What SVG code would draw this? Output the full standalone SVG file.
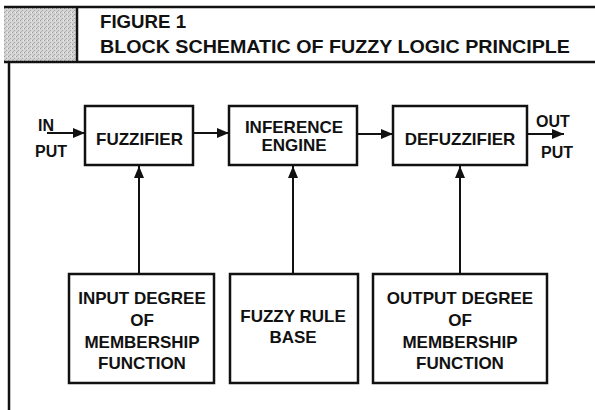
<svg xmlns="http://www.w3.org/2000/svg" width="595" height="410" viewBox="0 0 595 410">
  <style>
    .box { fill: #ffffff; stroke: #111111; stroke-width: 2.5; }
    .frame { fill: none; stroke: #111111; stroke-width: 2.5; }
    .conn { fill: none; stroke: #111111; stroke-width: 2; }
    .lbl { font-family: "Liberation Sans", Arial, Helvetica, sans-serif; font-weight: bold; font-size: 17px; fill: #111111; text-anchor: middle; }
    .io { font-family: "Liberation Sans", Arial, Helvetica, sans-serif; font-weight: bold; font-size: 16px; fill: #111111; }
    .title { font-family: "Liberation Sans", Arial, Helvetica, sans-serif; font-weight: bold; fill: #111111; }
  </style>
  <defs>
    <marker id="arrow" viewBox="0 0 12 10" refX="12" refY="5" markerWidth="12" markerHeight="10" markerUnits="userSpaceOnUse" orient="auto">
      <path d="M0,0 L12,5 L0,10 Z" fill="#111111"/>
    </marker>
    <pattern id="grain" width="4" height="4" patternUnits="userSpaceOnUse">
      <rect width="4" height="4" fill="#d4d4d4"/>
      <rect x="0" y="0" width="1" height="1" fill="#9a9a9a"/>
      <rect x="2" y="2" width="1" height="1" fill="#a8a8a8"/>
      <rect x="3" y="0" width="1" height="1" fill="#eeeeee"/>
      <rect x="1" y="3" width="1" height="1" fill="#b5b5b5"/>
    </pattern>
  </defs>
  <rect width="595" height="410" fill="#ffffff"/>

  <g id="header">
    <rect x="4" y="7" width="73" height="55" fill="url(#grain)"/>
    <line class="frame" x1="4" y1="7" x2="595" y2="7"/>
    <line class="frame" x1="4" y1="62" x2="595" y2="62"/>
    <line class="frame" x1="77" y1="7" x2="77" y2="62"/>
    <line class="frame" x1="9" y1="62" x2="9" y2="410"/>
    <text class="title" x="100" y="28" font-size="18" font-weight="bold" textLength="86" lengthAdjust="spacingAndGlyphs">FIGURE 1</text>
    <text class="title" x="100" y="53" font-size="19" textLength="470" lengthAdjust="spacingAndGlyphs">BLOCK SCHEMATIC OF FUZZY LOGIC PRINCIPLE</text>
  </g>

  <g id="connectors">
    <line class="conn" x1="47" y1="133" x2="85" y2="133" marker-end="url(#arrow)"/>
    <line class="conn" x1="193" y1="133" x2="229" y2="133" marker-end="url(#arrow)"/>
    <line class="conn" x1="357" y1="134" x2="393" y2="134" marker-end="url(#arrow)"/>
    <line class="conn" x1="527" y1="134" x2="564" y2="134" marker-end="url(#arrow)"/>
    <line class="conn" x1="139" y1="274" x2="139" y2="166" marker-end="url(#arrow)"/>
    <line class="conn" x1="293" y1="274" x2="293" y2="166" marker-end="url(#arrow)"/>
    <line class="conn" x1="460" y1="274" x2="460" y2="166" marker-end="url(#arrow)"/>
  </g>

  <g id="input-label">
    <text class="io" x="38" y="131">IN</text>
    <text class="io" x="35" y="157">PUT</text>
  </g>
  <g id="output-label">
    <text class="io" x="536" y="127">OUT</text>
    <text class="io" x="541" y="158">PUT</text>
  </g>

  <g id="fuzzifier">
    <rect class="box" x="85" y="106" width="108" height="59"/>
    <text class="lbl" x="139.5" y="145">FUZZIFIER</text>
  </g>
  <g id="inference-engine">
    <rect class="box" x="229" y="106" width="128" height="59"/>
    <text class="lbl" x="294" y="133">INFERENCE</text>
    <text class="lbl" x="294" y="151">ENGINE</text>
  </g>
  <g id="defuzzifier">
    <rect class="box" x="393" y="106" width="134" height="59"/>
    <text class="lbl" x="460" y="145">DEFUZZIFIER</text>
  </g>

  <g id="input-membership">
    <rect class="box" x="69" y="274" width="145" height="109"/>
    <text class="lbl" x="142" y="304">INPUT DEGREE</text>
    <text class="lbl" x="142" y="326">OF</text>
    <text class="lbl" x="142" y="348">MEMBERSHIP</text>
    <text class="lbl" x="142" y="369">FUNCTION</text>
  </g>
  <g id="fuzzy-rule-base">
    <rect class="box" x="230" y="274" width="128" height="109"/>
    <text class="lbl" x="293" y="322">FUZZY RULE</text>
    <text class="lbl" x="293" y="343">BASE</text>
  </g>
  <g id="output-membership">
    <rect class="box" x="373" y="274" width="174" height="109"/>
    <text class="lbl" x="460" y="304">OUTPUT DEGREE</text>
    <text class="lbl" x="460" y="326">OF</text>
    <text class="lbl" x="460" y="348">MEMBERSHIP</text>
    <text class="lbl" x="460" y="369">FUNCTION</text>
  </g>
</svg>
